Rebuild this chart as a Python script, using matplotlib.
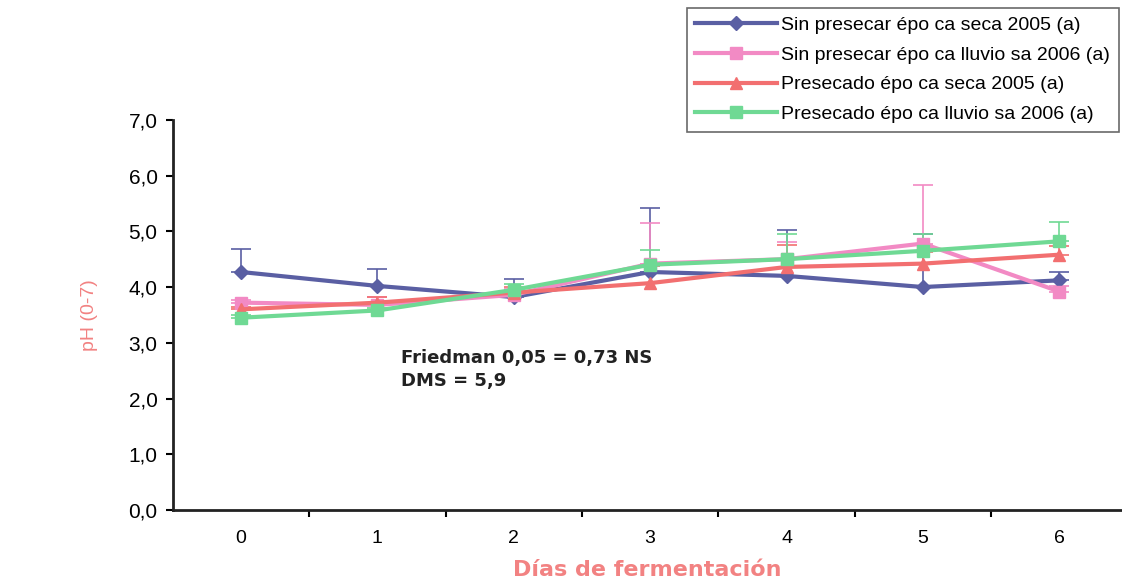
import matplotlib.pyplot as plt
import numpy as np

plt.rcParams['font.family'] = ['Liberation Sans', 'DejaVu Sans']

dias = [0, 1, 2, 3, 4, 5, 6]

sin_seca_2005 = [4.27, 4.02, 3.82, 4.27, 4.20, 4.00, 4.12]
sin_seca_2005_err = [0.42, 0.31, 0.33, 1.15, 0.83, 0.95, 0.15]

sin_lluv_2006 = [3.72, 3.68, 3.86, 4.42, 4.50, 4.78, 3.92]
sin_lluv_2006_err = [0.05, 0.15, 0.10, 0.73, 0.31, 1.05, 0.10]

pre_seca_2005 = [3.60, 3.72, 3.90, 4.07, 4.36, 4.42, 4.58]
pre_seca_2005_err = [0.05, 0.10, 0.10, 0.30, 0.40, 0.20, 0.15]

pre_lluv_2006 = [3.45, 3.58, 3.95, 4.40, 4.50, 4.65, 4.82]
pre_lluv_2006_err = [0.05, 0.05, 0.10, 0.27, 0.45, 0.30, 0.35]

labels = ['Sin presecar épo ca seca 2005 (a)',
          'Sin presecar épo ca lluvio sa 2006 (a)',
          'Presecado épo ca seca 2005 (a)',
          'Presecado épo ca lluvio sa 2006 (a)']

series = [
    (sin_seca_2005, sin_seca_2005_err, '#5a5fa3', 'D', 7),
    (sin_lluv_2006, sin_lluv_2006_err, '#f28ac4', 's', 9),
    (pre_seca_2005, pre_seca_2005_err, '#f26f70', '^', 9),
    (pre_lluv_2006, pre_lluv_2006_err, '#6fd994', 's', 9),
]

fig = plt.figure(figsize=(11.22, 5.87), dpi=100)
ax = fig.add_axes([0.154, 0.131, 0.846, 0.665])

x = np.array(dias)
handles = []
for (y, err, col, mk, ms), lab in zip(series, labels):
    ax.errorbar(x, y, yerr=[np.zeros(len(err)), err], fmt='none',
                ecolor=col, elinewidth=1.2, capsize=7, capthick=1.2, zorder=2)
    h, = ax.plot(x, y, color=col, linewidth=3, marker=mk, markersize=ms,
                 label=lab, zorder=3)
    handles.append(h)

ax.set_xlim(-0.5, 6.46)
ax.set_ylim(0, 7)
ax.set_yticks(np.arange(0, 8, 1))
ax.set_yticklabels([f'{v:.1f}'.replace('.', ',') for v in range(8)], fontsize=15)
ax.set_xticks(dias)
ax.set_xticklabels([str(d) for d in dias], fontsize=14)
ax.set_xticks(np.arange(0.5, 6.5, 1), minor=True)
ax.tick_params(axis='x', which='major', length=0, pad=14)
ax.tick_params(axis='x', which='minor', length=5, width=1.5, direction='out')
ax.tick_params(axis='y', length=5, width=1.5, direction='out', pad=6)

for s in ['top', 'right']:
    ax.spines[s].set_visible(False)
for s in ['left', 'bottom']:
    ax.spines[s].set_linewidth(2)
    ax.spines[s].set_color('#222222')

salmon = '#f28282'
ax.set_xlabel('Días de fermentación', color=salmon, fontsize=16,
              fontweight='bold', labelpad=10, family='DejaVu Sans')
ax.set_ylabel('pH (0-7)', color=salmon, fontsize=14, labelpad=22)

ax.text(1.17, 2.73, 'Friedman 0,05 = 0,73 NS', fontsize=13,
        fontweight='bold', color='#222222', va='center', family='DejaVu Sans')
ax.text(1.17, 2.32, 'DMS = 5,9', fontsize=13, fontweight='bold',
        color='#222222', va='center', family='DejaVu Sans')

leg = fig.legend(handles=handles, loc='upper right',
                 bbox_to_anchor=(0.997, 0.987), fontsize=14, frameon=True,
                 fancybox=False, handlelength=4.2, handletextpad=0.2,
                 borderpad=0.45, labelspacing=0.62, borderaxespad=0)
leg.get_frame().set_edgecolor('#444444')
leg.get_frame().set_linewidth(1.2)

fig.savefig('out.png', dpi=100, facecolor='white')
